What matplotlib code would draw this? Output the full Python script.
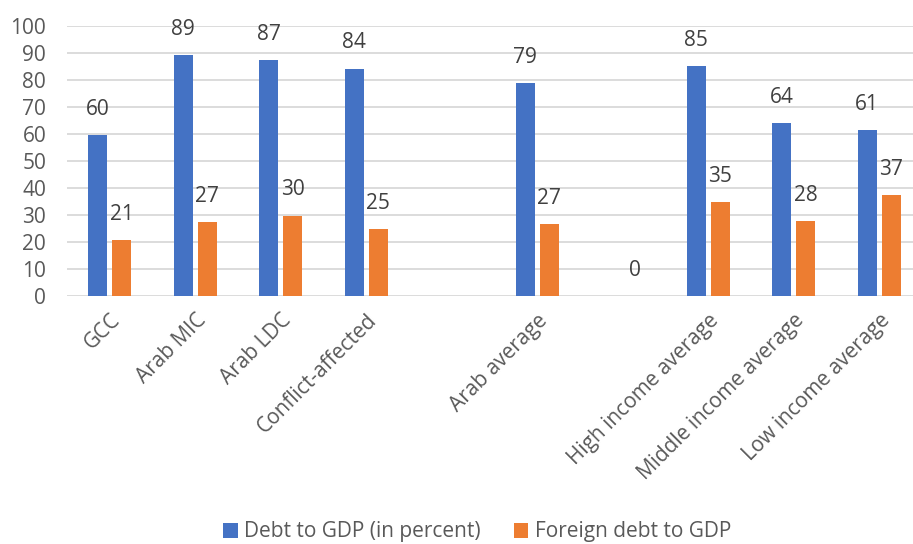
import matplotlib
matplotlib.use("Agg")
import matplotlib.pyplot as plt
import numpy as np

categories = ["GCC", "Arab MIC", "Arab LDC", "Conflict-affected", "", "Arab average", "",
              "High income average", "Middle income average", "Low income average"]
debt_to_gdp = [59.5, 89.0, 87.1, 84.1, np.nan, 78.6, np.nan, 84.9, 63.9, 61.3]
foreign_debt = [20.7, 27.2, 29.7, 24.8, np.nan, 26.7, 0.0, 34.6, 27.7, 37.3]
series_names = ["Debt to GDP (in percent)", "Foreign debt to GDP"]
yticks = list(range(0, 101, 10))

plt.rcParams['font.family'] = ['Open Sans', 'DejaVu Sans']
txt = '#595959'
blue = '#4472C4'
orange = '#ED7D31'
fs = 15

fig = plt.figure(figsize=(9.13, 5.44), dpi=100)
W, H = 913, 544
left, right, top, bottom = 67, 922, 25.6, 296
ax = fig.add_axes([left / W, 1 - bottom / H, (right - left) / W, (bottom - top) / H])

x = np.arange(len(categories))
bw = 0.225
off = 0.14
b1 = ax.bar(x - off, debt_to_gdp, bw, color=blue, label=series_names[0], zorder=3)
b2 = ax.bar(x + off, foreign_debt, bw, color=orange, label=series_names[1], zorder=3)

for bars, vals in ((b1, debt_to_gdp), (b2, foreign_debt)):
    for rect, v in zip(bars, vals):
        if np.isnan(v):
            continue
        ax.annotate(f"{v:.0f}", (rect.get_x() + rect.get_width() / 2, v),
                    xytext=(0, 11), textcoords='offset points', ha='center', va='bottom',
                    fontsize=fs, color='#404040')

ax.set_xlim(-0.5, 9.5)
ax.set_ylim(0, 100)
ax.set_yticks(yticks)
ax.set_yticklabels([str(t) for t in yticks], fontsize=fs, color=txt)
ax.set_xticks(x)
ax.set_xticklabels(categories, rotation=45, ha='right', rotation_mode='anchor',
                   fontsize=fs, color=txt)
ax.tick_params(axis='both', length=0)
ax.tick_params(axis='y', pad=15)
ax.tick_params(axis='x', pad=10)
ax.grid(axis='y', color='#D9D9D9', linewidth=1.3, zorder=0)
for s in ax.spines.values():
    s.set_visible(False)

fig.legend(handles=[b1, b2], labels=series_names, loc='center', bbox_to_anchor=(477 / W, 1 - 532 / H),
           ncol=2, frameon=False, fontsize=fs, handlelength=0.7, handleheight=0.7,
           columnspacing=1.6, handletextpad=0.3, labelcolor=txt, borderpad=0.1)

fig.savefig("out.png", dpi=100)
